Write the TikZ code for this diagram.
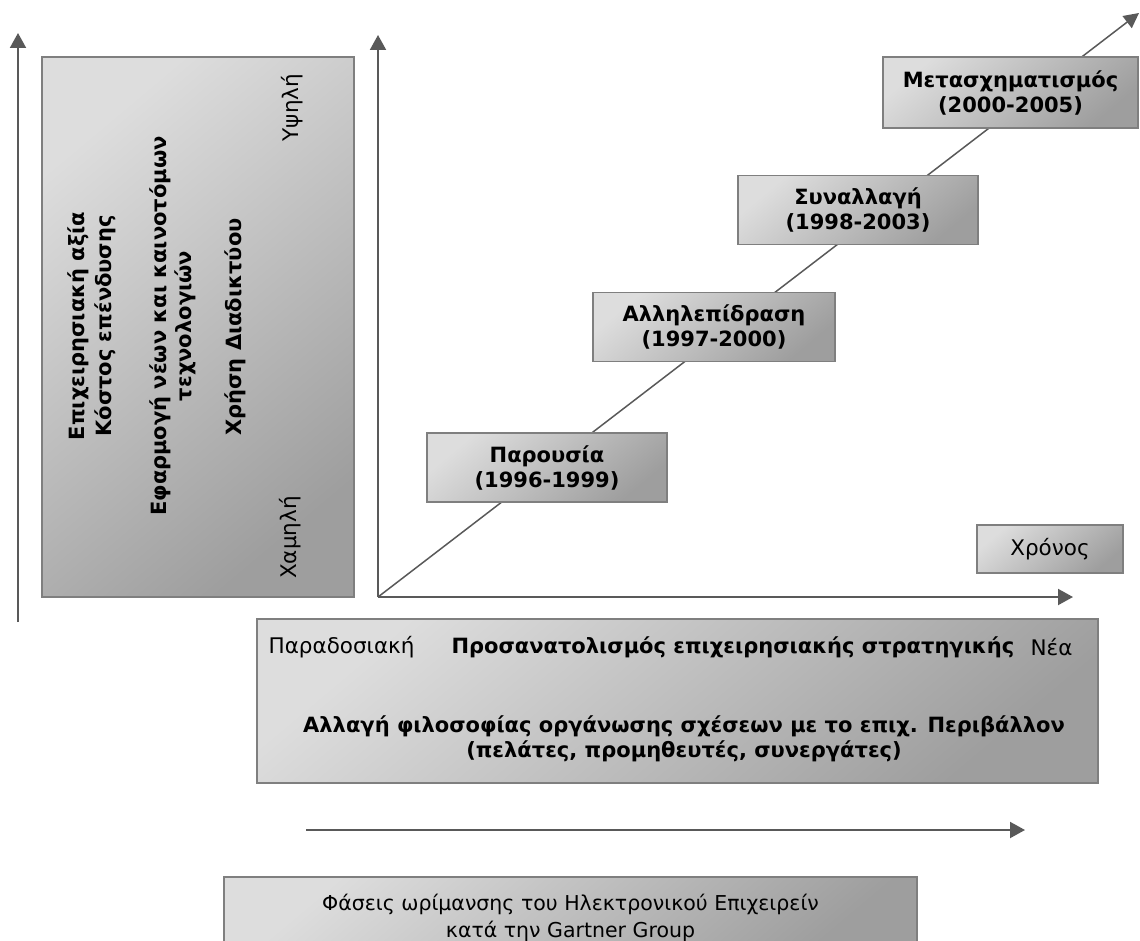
\documentclass[tikz,border=0pt]{standalone}
\usepackage{fontspec}
\setmainfont{DejaVu Sans}
\usetikzlibrary{arrows.meta}
\definecolor{axisgray}{HTML}{595959}
\definecolor{boxedge}{HTML}{7F7F7F}
\definecolor{boxlight}{HTML}{DDDDDD}
\definecolor{boxdark}{HTML}{9E9E9E}
\tikzset{
  axis/.style={draw=axisgray, line width=2pt, -{Triangle[width=16pt,length=15pt]}},
  gbox/.style={draw=boxedge, line width=1.5pt, top color=boxlight, bottom color=boxdark, shading angle=40, inner sep=0pt},
  boldlbl/.style={font=\fontsize{21}{25}\selectfont\bfseries, align=center},
  reglbl/.style={font=\fontsize{21.5}{26}\selectfont, align=center},
  phase/.style={gbox, minimum width=240pt, minimum height=69pt, boldlbl},
}
\begin{document}
\begin{tikzpicture}[x=1pt,y=-1pt]
\useasboundingbox (0,0) rectangle (1140,941);
% coordinates
\coordinate (L0) at (18,622);
\coordinate (L1) at (18,33);
\coordinate (O) at (378,597);
\coordinate (ytip) at (378,35);
\coordinate (xtip) at (1073,597);
\coordinate (dtip) at (1139,13);
\coordinate (B0) at (306,830);
\coordinate (B1) at (1025,830);
% left axis
\draw[axis] (L0) -- (L1);
% left box
\node[gbox, minimum width=312pt, minimum height=540pt] (lbox) at (198,327) {};
\node[boldlbl, rotate=90, font=\fontsize{21}{27}\selectfont\bfseries] (t1) at (92,326) {Επιχειρησιακή αξία\\Κόστος επένδυσης};
\node[boldlbl, rotate=90] (t2) at (172.5,326) {Εφαρμογή νέων και καινοτόμων\\τεχνολογιών};
\node[boldlbl, rotate=90] (t3) at (235,327) {Χρήση Διαδικτύου};
\node[reglbl, rotate=90] (hi) at (292,107.5) {Υψηλή};
\node[reglbl, rotate=90] (lo) at (290,537.5) {Χαμηλή};
% axes
\draw[axis] (O) -- (ytip);
\draw[axis] (O) -- (xtip);
\draw[draw=axisgray, line width=1.5pt, -{Triangle[width=15pt,length=15pt]}] (O) -- (dtip);
% phase boxes
\node[phase] (p1) at (547,467.5) {Παρουσία\\(1996-1999)};
\node[phase, minimum width=242pt] (p2) at (714,327) {Αλληλεπίδραση\\(1997-2000)};
\node[phase] (p3) at (858,210) {Συναλλαγή\\(1998-2003)};
\node[phase, minimum width=255pt, minimum height=71pt] (p4) at (1010.5,92.5) {Μετασχηματισμός\\(2000-2005)};
% time box
\node[gbox, minimum width=146pt, minimum height=48pt, reglbl] (time) at (1050,549) {Χρόνος};
% big box
\node[gbox, minimum width=841pt, minimum height=164pt] (big) at (677.5,701) {};
\node[reglbl, anchor=east] (trad) at (418,647) {Παραδοσιακή};
\node[boldlbl, anchor=west] (orient) at (448,647) {Προσανατολισμός επιχειρησιακής στρατηγικής};
\node[reglbl, anchor=east] (new) at (1076,647) {Νέα};
\node[boldlbl] (phil) at (684,739) {Αλλαγή φιλοσοφίας οργάνωσης σχέσεων με το επιχ. Περιβάλλον\\(πελάτες, προμηθευτές, συνεργάτες)};
% lower arrow
\draw[axis] (B0) -- (B1);
% bottom box
\node[gbox, minimum width=693pt, minimum height=80pt] (bot) at (570.5,917) {};
\node[reglbl, font=\fontsize{20.5}{27}\selectfont] (cap) at (570.5,918) {Φάσεις ωρίμανσης του Ηλεκτρονικού Επιχειρείν\\κατά την Gartner Group};
\end{tikzpicture}
\end{document}
